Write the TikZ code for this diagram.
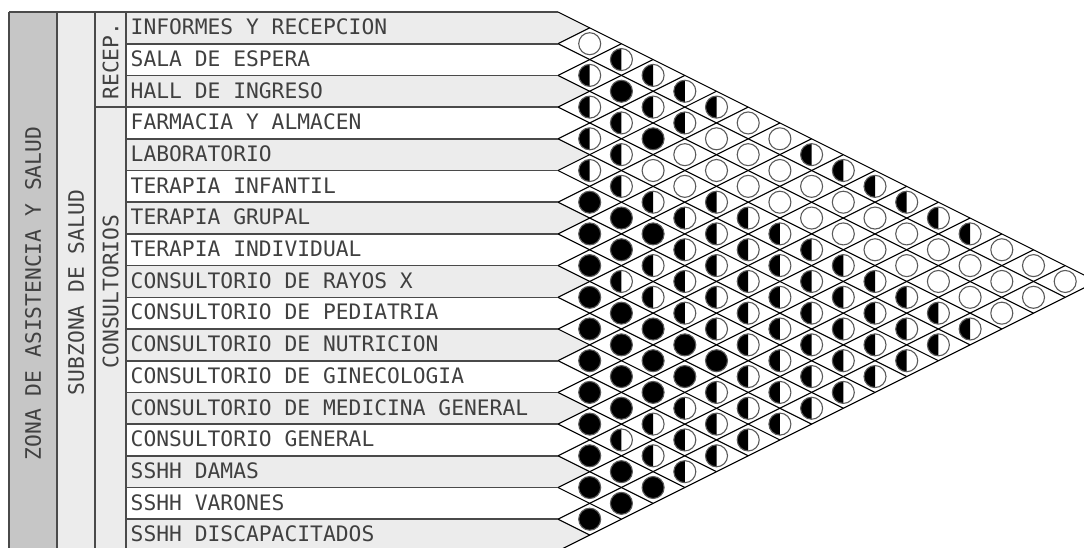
\documentclass[tikz,border=0pt]{standalone}
\usepackage{fontspec}
\newfontfamily\lblfont{DejaVu Sans Mono}
\definecolor{zonegray}{HTML}{C6C6C6}
\definecolor{bandgray}{HTML}{ECECEC}
\definecolor{linegray}{HTML}{4A4A4A}
\definecolor{txtgray}{HTML}{404040}
\definecolor{circgray}{HTML}{5A5A5A}
\begin{document}
\begin{tikzpicture}[x=1pt,y=-1pt,
  lbl/.style={font=\lblfont\fontsize{21.3}{21.3}\selectfont, text=txtgray, inner sep=0pt, text height=15.5pt, text depth=0pt},
  sepline/.style={draw=linegray, line width=1.6pt},
  gridline/.style={draw=black, line width=1.1pt},
  circ/.style={draw=circgray, line width=1.1pt}]
\useasboundingbox (0,0) rectangle (1084,547);
\clip (0,0) rectangle (1084,547);
\def\H{31.7}
\def\X{558}
\def\T{12}
% columns
\fill[zonegray] (9,12) rectangle (57,560);
\fill[bandgray] (57,12) rectangle (126,560);
% label rows
\foreach \i in {0,...,16} {
  \pgfmathsetmacro\ya{\T+\i*\H}
  \pgfmathsetmacro\yb{\T+(\i+1)*\H}
  \pgfmathsetmacro\yc{\T+(\i+0.5)*\H}
  \pgfmathtruncatemacro\odd{mod(\i,2)}
  \ifnum\odd=0
    \fill[bandgray] (126,\ya) -- (\X,\ya) -- (\X+\H,\yc) -- (\X,\yb) -- (126,\yb) -- cycle;
  \fi
}
% circles
\foreach \d/\vals in {
  1/{0,1,1,1,1,2,2,2,2,2,2,2,2,2,2,2},
  2/{1,2,1,1,1,2,2,1,2,2,2,2,1,2,2},
  3/{1,1,2,0,1,2,1,1,2,2,2,1,1,2},
  4/{1,1,0,0,1,1,1,1,2,2,1,1,1},
  5/{1,0,0,1,1,1,1,1,2,1,1,1},
  6/{0,0,0,1,1,1,1,1,1,1,1},
  7/{0,0,0,1,1,1,1,1,1,1},
  8/{1,0,0,1,1,1,1,1,1},
  9/{1,0,0,1,1,1,1,1},
  10/{1,0,0,1,1,1,1},
  11/{1,0,0,1,1,1},
  12/{1,0,0,1,1},
  13/{1,0,0,1},
  14/{0,0,0},
  15/{0,0},
  16/{0}} {
  \foreach \v [count=\n from 0] in \vals {
    \pgfmathsetmacro\cx{\X+\d*\H}
    \pgfmathsetmacro\cy{\T+\H/2*(2*\n+\d+1)}
    \ifcase\v\relax
    \or
      \fill[black] (\cx,\cy+11) arc[start angle=90,end angle=270,radius=11] -- cycle;
    \or
      \fill[black] (\cx,\cy) circle[radius=11];
    \fi
    \draw[circ] (\cx,\cy) circle[radius=11];
  }
}
% diagonal grid
\foreach \k in {0,...,17} {
  \pgfmathsetmacro\yk{\T+\k*\H}
  \pgfmathsetmacro\ydr{(\yk+\T+17*\H)/2}
  \pgfmathsetmacro\yur{(\yk+\T)/2}
  \draw[gridline] (\X,\yk) -- (\X+17*\H-\k*\H,\ydr);
  \draw[gridline] (\X,\yk) -- (\X+\k*\H,\yur);
}
% separators
\draw[sepline] (9,12) -- (\X,12);
\foreach \k in {1,2,4,5,...,16} {
  \pgfmathsetmacro\yk{\T+\k*\H}
  \draw[sepline] (126,\yk) -- (\X,\yk);
}
\draw[sepline] (95,\T+3*\H) -- (\X,\T+3*\H);
\foreach \xx in {9,57,95,126} {
  \draw[sepline] (\xx,12) -- (\xx,560);
}
% texts
\node[lbl, rotate=90] (zona) at (33,293.5) {ZONA DE ASISTENCIA Y SALUD};
\node[lbl, rotate=90] (subzona) at (76,292.5) {SUBZONA DE SALUD};
\node[lbl, rotate=90] (recep) at (110.5,61) {RECEP.};
\node[lbl, rotate=90] (consul) at (110.5,291.5) {CONSULTORIOS};
\foreach \t [count=\n from 0] in {INFORMES Y RECEPCION, SALA DE ESPERA, HALL DE INGRESO, FARMACIA Y ALMACEN, LABORATORIO, TERAPIA INFANTIL, TERAPIA GRUPAL, TERAPIA INDIVIDUAL, CONSULTORIO DE RAYOS X, CONSULTORIO DE PEDIATRIA, CONSULTORIO DE NUTRICION, CONSULTORIO DE GINECOLOGIA, CONSULTORIO DE MEDICINA GENERAL, CONSULTORIO GENERAL, SSHH DAMAS, SSHH VARONES, SSHH DISCAPACITADOS} {
  \pgfmathsetmacro\yc{\T+(\n+0.5)*\H-1}
  \node[lbl, anchor=west] (row\n) at (130.5,\yc) {\t};
}
\end{tikzpicture}
\end{document}
